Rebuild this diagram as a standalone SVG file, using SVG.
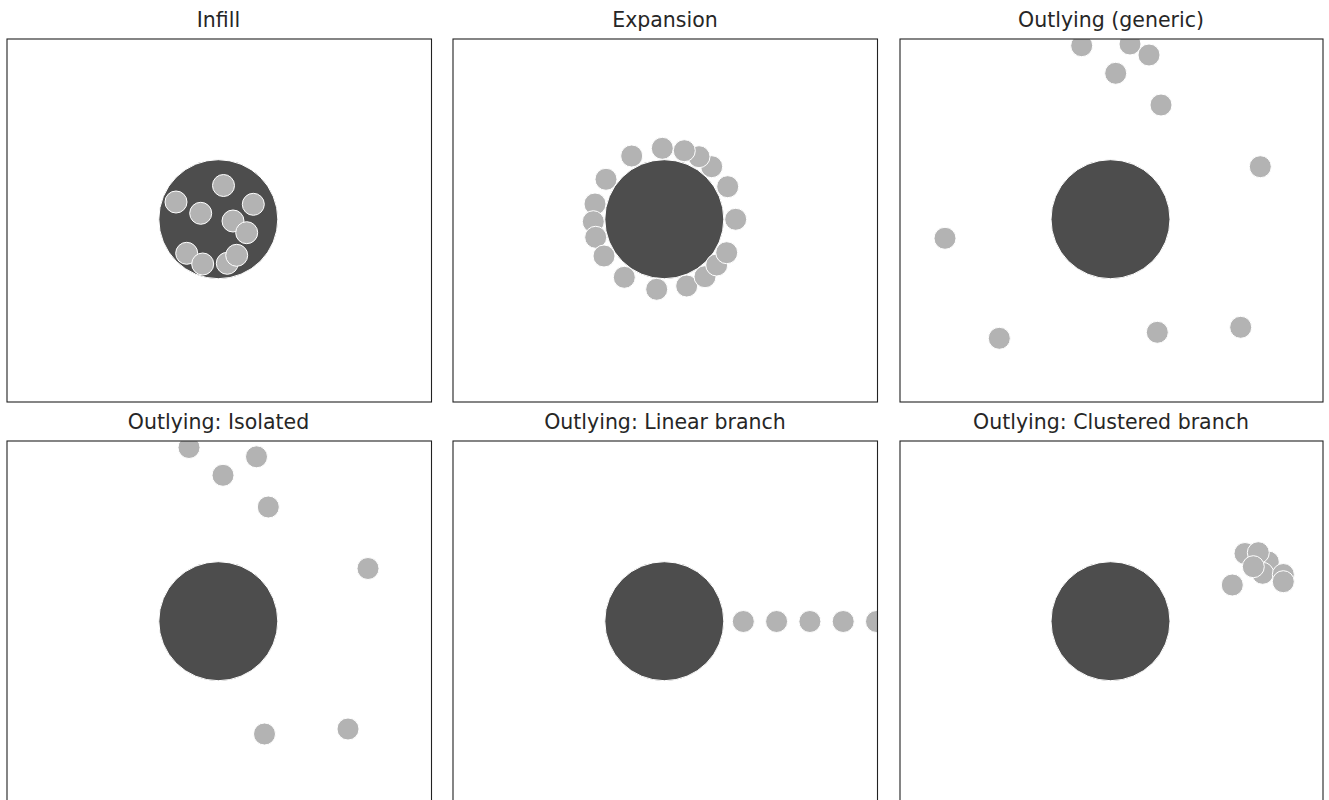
<svg xmlns="http://www.w3.org/2000/svg" width="1329" height="800" viewBox="0 0 1329 800">
<style>
.t{font-family:"DejaVu Sans",sans-serif;font-size:20.5px;fill:#262626;text-anchor:middle}
.ax{fill:none;stroke:#222;stroke-width:1.1}
.big{fill:#4d4d4d;stroke:#fff;stroke-width:1}
.s{fill:#b3b3b3;stroke:#fff;stroke-width:1}
</style>
<defs>
<clipPath id="c1"><rect x="7" y="39" width="424.5" height="363"/></clipPath>
<clipPath id="c2"><rect x="453" y="39" width="424.5" height="363"/></clipPath>
<clipPath id="c3"><rect x="900" y="39" width="423" height="363"/></clipPath>
<clipPath id="c4"><rect x="7" y="441" width="424.5" height="363"/></clipPath>
<clipPath id="c5"><rect x="453" y="441" width="424.5" height="363"/></clipPath>
<clipPath id="c6"><rect x="900" y="441" width="423" height="363"/></clipPath>
</defs>
<rect width="1329" height="800" fill="#fff"/>

<g id="infill">
<text class="t" x="218.5" y="27">Infill</text>
<g clip-path="url(#c1)">
<circle class="big" cx="218.3" cy="219.2" r="59.5"/>
<circle class="s" cx="223.5" cy="185.5" r="11"/>
<circle class="s" cx="176" cy="202" r="11"/>
<circle class="s" cx="200.7" cy="213.3" r="11"/>
<circle class="s" cx="253.3" cy="204.3" r="11"/>
<circle class="s" cx="233" cy="221" r="11"/>
<circle class="s" cx="246.7" cy="232.7" r="11"/>
<circle class="s" cx="186.7" cy="253.3" r="11"/>
<circle class="s" cx="202.7" cy="264" r="11"/>
<circle class="s" cx="227.3" cy="263.3" r="11"/>
<circle class="s" cx="236.7" cy="255.3" r="11"/>
</g>
<rect class="ax" x="7" y="39" width="424.5" height="363"/>
</g>

<g id="expansion">
<text class="t" x="665" y="27">Expansion</text>
<g clip-path="url(#c2)">
<circle class="big" cx="664.3" cy="219.2" r="59.5"/>
<circle class="s" cx="662.3" cy="148.3" r="11"/>
<circle class="s" cx="631.7" cy="156" r="11"/>
<circle class="s" cx="606" cy="179.3" r="11"/>
<circle class="s" cx="595" cy="204" r="11"/>
<circle class="s" cx="593.3" cy="221.7" r="11"/>
<circle class="s" cx="595.7" cy="237.3" r="11"/>
<circle class="s" cx="604" cy="256" r="11"/>
<circle class="s" cx="624.3" cy="277.3" r="11"/>
<circle class="s" cx="656.7" cy="289.3" r="11"/>
<circle class="s" cx="686.7" cy="286" r="11"/>
<circle class="s" cx="705" cy="276.7" r="11"/>
<circle class="s" cx="716.7" cy="265" r="11"/>
<circle class="s" cx="726.7" cy="252.7" r="11"/>
<circle class="s" cx="735.7" cy="219.3" r="11"/>
<circle class="s" cx="727.7" cy="186.7" r="11"/>
<circle class="s" cx="711.7" cy="166.7" r="11"/>
<circle class="s" cx="699" cy="156.7" r="11"/>
<circle class="s" cx="684.3" cy="150.7" r="11"/>
</g>
<rect class="ax" x="453" y="39" width="424.5" height="363"/>
</g>

<g id="outlying-generic">
<text class="t" x="1111" y="27">Outlying (generic)</text>
<g clip-path="url(#c3)">
<circle class="big" cx="1110.5" cy="219.2" r="59.5"/>
<circle class="s" cx="1081.7" cy="45.7" r="11"/>
<circle class="s" cx="1130" cy="44" r="11"/>
<circle class="s" cx="1149" cy="55" r="11"/>
<circle class="s" cx="1115.7" cy="73.3" r="11"/>
<circle class="s" cx="1161" cy="105" r="11"/>
<circle class="s" cx="1260.3" cy="166.7" r="11"/>
<circle class="s" cx="945" cy="238.3" r="11"/>
<circle class="s" cx="999.3" cy="338.3" r="11"/>
<circle class="s" cx="1157.3" cy="332.3" r="11"/>
<circle class="s" cx="1240.7" cy="327.3" r="11"/>
</g>
<rect class="ax" x="900" y="39" width="423" height="363"/>
</g>

<g id="outlying-isolated">
<text class="t" x="218.5" y="429">Outlying: Isolated</text>
<g clip-path="url(#c4)">
<circle class="big" cx="218.3" cy="621.2" r="59.5"/>
<circle class="s" cx="189" cy="447.5" r="11"/>
<circle class="s" cx="256.5" cy="456.8" r="11"/>
<circle class="s" cx="223" cy="475.3" r="11"/>
<circle class="s" cx="268.3" cy="507" r="11"/>
<circle class="s" cx="368" cy="568.5" r="11"/>
<circle class="s" cx="264.5" cy="734" r="11"/>
<circle class="s" cx="348" cy="729" r="11"/>
</g>
<rect class="ax" x="7" y="441" width="424.5" height="363"/>
</g>

<g id="outlying-linear">
<text class="t" x="665" y="429">Outlying: Linear branch</text>
<g clip-path="url(#c5)">
<circle class="big" cx="664.3" cy="621.2" r="59.5"/>
<circle class="s" cx="743.3" cy="621.5" r="11"/>
<circle class="s" cx="776.6" cy="621.5" r="11"/>
<circle class="s" cx="809.9" cy="621.5" r="11"/>
<circle class="s" cx="843.2" cy="621.5" r="11"/>
<circle class="s" cx="876.5" cy="621.5" r="11"/>
</g>
<rect class="ax" x="453" y="441" width="424.5" height="363"/>
</g>

<g id="outlying-clustered">
<text class="t" x="1111" y="429">Outlying: Clustered branch</text>
<g clip-path="url(#c6)">
<circle class="big" cx="1110.5" cy="621.2" r="59.5"/>
<circle class="s" cx="1232.3" cy="585" r="11"/>
<circle class="s" cx="1245" cy="553.5" r="11"/>
<circle class="s" cx="1268.3" cy="562" r="11"/>
<circle class="s" cx="1262.7" cy="573.3" r="11"/>
<circle class="s" cx="1283.3" cy="574.5" r="11"/>
<circle class="s" cx="1283.3" cy="581.7" r="11"/>
<circle class="s" cx="1258.3" cy="552.7" r="11"/>
<circle class="s" cx="1253.3" cy="566.7" r="11"/>
</g>
<rect class="ax" x="900" y="441" width="423" height="363"/>
</g>
</svg>
